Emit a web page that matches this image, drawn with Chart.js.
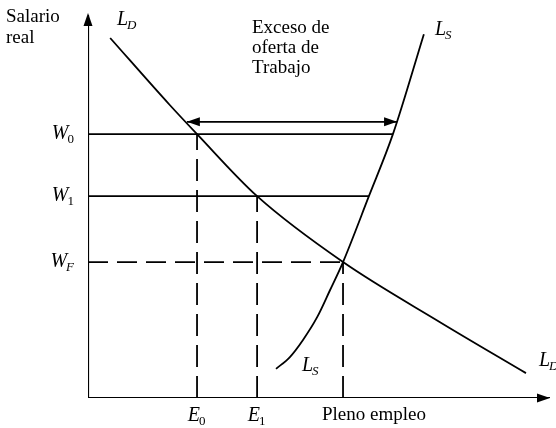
<!DOCTYPE html>
<html><head><meta charset="utf-8">
<script src="https://cdn.jsdelivr.net/npm/chart.js@4"></script>
<style>html,body{margin:0;padding:0;background:#fff}#wrap{width:556px;height:428px}</style>
</head><body>
<div id="wrap"><canvas id="c"></canvas></div>
<script>
// ---- data (abstract units, axes 0..100) ----
const wageNames = ['W', 'W', 'W'];
const wageSubs = ['0', '1', 'F'];
const wageLevels = [68.9, 52.7, 35.5];
const employmentNames = ['E', 'E', 'Pleno empleo'];
const employmentSubs = ['0', '1', ''];
const employmentLevels = [23.6, 36.6, 55.2];
const supplyAtWage = [66.0, 60.8, 55.2];   // where each wage line meets L_S
const demandX = [4.8, 17.7, 23.6, 36.6, 55.2, 76.2, 94.8];
const demandY = [94.0, 76.5, 68.9, 52.7, 35.5, 19.8, 6.5];
const supplyX = [40.7, 43.7, 46.5, 49.6, 52.4, 55.2, 60.8, 66.0, 72.7];
const supplyY = [7.6, 10.7, 15.1, 21.1, 28.2, 35.5, 52.7, 68.9, 95.0];
const excessX = [21.4, 66.9];
const excessY = 72.1;
const axisMax = [100, 100];

const pts = (xs, ys) => xs.map((x, i) => ({x, y: ys[i]}));
const black = '#000';
const LW = 1.8;
const datasets = [];
datasets.push({data: pts(demandX, demandY), borderColor: black, borderWidth: LW, cubicInterpolationMode: 'monotone'});
datasets.push({data: pts(supplyX, supplyY), borderColor: black, borderWidth: LW, cubicInterpolationMode: 'monotone'});
// axes
datasets.push({data: [{x: 0, y: 0}, {x: 0, y: axisMax[1]}], borderColor: black, borderWidth: 2.2});
datasets.push({data: [{x: 0, y: 0}, {x: axisMax[0], y: 0}], borderColor: black, borderWidth: 2.2});
// wage lines
wageLevels.forEach((w, i) => {
  datasets.push({data: [{x: 0, y: w}, {x: supplyAtWage[i], y: w}], borderColor: black,
    borderWidth: LW, borderDash: i === 2 ? [20, 9] : []});
});
// dashed employment lines
employmentLevels.forEach((e, i) => {
  datasets.push({data: [{x: e, y: 0}, {x: e, y: wageLevels[i]}], borderColor: black,
    borderWidth: LW, borderDash: [22, 9]});
});
// excess arrow
datasets.push({data: [{x: excessX[0], y: excessY}, {x: excessX[1], y: excessY}], borderColor: black, borderWidth: LW});
datasets.forEach(d => { d.pointRadius = 0; d.fill = false; });

const SERIF = '"Liberation Serif", "DejaVu Serif", serif';
function sublabel(ctx, x, y, main, sub, align, subItalic) {
  ctx.font = 'italic 20px ' + SERIF;
  const mw = ctx.measureText(main).width;
  ctx.font = (subItalic ? 'italic ' : '') + '13px ' + SERIF;
  const sw = ctx.measureText(sub).width;
  let x0 = x;
  if (align === 'right') x0 = x - mw - sw;
  if (align === 'center') x0 = x - (mw + sw) / 2;
  ctx.textAlign = 'left';
  ctx.font = 'italic 20px ' + SERIF;
  ctx.fillText(main, x0, y);
  ctx.font = (subItalic ? 'italic ' : '') + '13px ' + SERIF;
  ctx.fillText(sub, x0 + mw - 1, y + 4);
}
function head(ctx, tx, ty, dir) { // dir: 'up','right','left'
  ctx.beginPath();
  if (dir === 'up') { ctx.moveTo(tx, ty); ctx.lineTo(tx - 4.5, ty + 13); ctx.lineTo(tx + 4.5, ty + 13); }
  if (dir === 'right') { ctx.moveTo(tx, ty); ctx.lineTo(tx - 13, ty - 4.5); ctx.lineTo(tx - 13, ty + 4.5); }
  if (dir === 'left') { ctx.moveTo(tx, ty); ctx.lineTo(tx + 13, ty - 4.5); ctx.lineTo(tx + 13, ty + 4.5); }
  ctx.closePath(); ctx.fill();
}
const deco = {
  id: 'deco',
  afterDatasetsDraw(chart) {
    const ctx = chart.ctx, xs = chart.scales.x, ys = chart.scales.y;
    const px = v => xs.getPixelForValue(v), py = v => ys.getPixelForValue(v);
    ctx.save();
    ctx.fillStyle = black;
    head(ctx, px(0), py(axisMax[1]) - 2, 'up');
    head(ctx, px(axisMax[0]), py(0), 'right');
    head(ctx, px(excessX[0]), py(excessY), 'left');
    head(ctx, px(excessX[1]), py(excessY), 'right');
    ctx.textBaseline = 'alphabetic';
    // y tick labels
    wageLevels.forEach((w, i) => sublabel(ctx, px(0) - 13, py(w) + 5, wageNames[i], wageSubs[i], 'right', wageSubs[i] === 'F'));
    // x tick labels
    employmentLevels.forEach((e, i) => {
      if (employmentSubs[i]) sublabel(ctx, px(e), py(0) + 23, employmentNames[i], employmentSubs[i], 'center', false);
      else { ctx.font = '19px ' + SERIF; ctx.textAlign = 'left'; ctx.fillText(employmentNames[i], px(e) - 21, py(0) + 22); }
    });
    ctx.font = '19px ' + SERIF; ctx.textAlign = 'left';
    ctx.fillText('Salario', 6, 22);
    ctx.fillText('real', 6, 43);
    ctx.fillText('Exceso de', 252, 33);
    ctx.fillText('oferta de', 252, 53);
    ctx.fillText('Trabajo', 252, 73);
    sublabel(ctx, 117, 25, 'L', 'D', 'left', true);
    sublabel(ctx, 435, 35, 'L', 'S', 'left', true);
    sublabel(ctx, 302, 371, 'L', 'S', 'left', true);
    sublabel(ctx, 539, 366, 'L', 'D', 'left', true);
    ctx.restore();
  }
};

new Chart(document.getElementById('c'), {
  type: 'line',
  data: {datasets},
  options: {
    responsive: true, maintainAspectRatio: false, animation: false,
    layout: {padding: {left: 88, right: 6, top: 15, bottom: 30}},
    plugins: {legend: {display: false}, tooltip: {enabled: false}},
    scales: {
      x: {type: 'linear', min: 0, max: 100, display: false},
      y: {type: 'linear', min: 0, max: 100, display: false}
    }
  },
  plugins: [deco]
});
</script>
</body></html>
